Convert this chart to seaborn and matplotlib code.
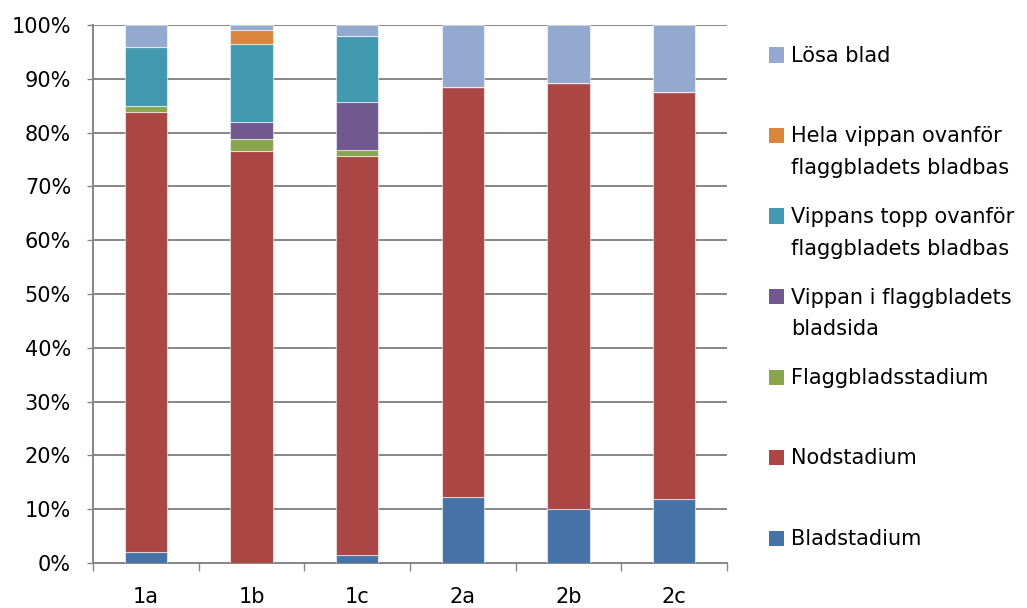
import matplotlib
matplotlib.use("Agg")
import matplotlib.pyplot as plt
import matplotlib.patches as mpatches
from matplotlib.ticker import FixedLocator, PercentFormatter
import numpy as np
import pandas as pd
import seaborn as sns

# Plots (x-axis categories)
plots = ["1a", "1b", "1c", "2a", "2b", "2c"]

# Share of plants (%) per development stage, stacked bottom to top
bladstadium = [2.1, 0.0, 1.5, 12.2, 10.0, 11.9]
nodstadium = [81.8, 76.5, 74.2, 76.3, 79.2, 75.6]
flaggbladsstadium = [1.1, 2.3, 1.1, 0.0, 0.0, 0.0]
vippan_bladsida = [0.0, 3.2, 8.8, 0.0, 0.0, 0.0]
vippans_topp = [11.0, 14.5, 12.4, 0.0, 0.0, 0.0]
hela_vippan = [0.0, 2.6, 0.0, 0.0, 0.0, 0.0]
losa_blad = [4.0, 0.9, 2.0, 11.5, 10.8, 12.5]

series_names = [
    "Bladstadium",
    "Nodstadium",
    "Flaggbladsstadium",
    "Vippan i flaggbladets\nbladsida",
    "Vippans topp ovanför\nflaggbladets bladbas",
    "Hela vippan ovanför\nflaggbladets bladbas",
    "Lösa blad",
]
series_values = [bladstadium, nodstadium, flaggbladsstadium, vippan_bladsida,
                 vippans_topp, hela_vippan, losa_blad]
colors = ["#4572A7", "#AA4643", "#89A54E", "#71588F", "#4198AF", "#DB843D", "#93A9CF"]

sns.set_theme(style="white")
plt.rcParams["font.family"] = ["DejaVu Sans"]

W, H = 1027, 608
fig = plt.figure(figsize=(W / 100, H / 100), dpi=100)
ax = fig.add_axes([93 / W, 1 - 563 / H, (727 - 93) / W, (563 - 25) / H])

bottom = np.zeros(len(plots))
for name, vals, col in zip(series_names, series_values, colors):
    df = pd.DataFrame({"plot": plots, "value": vals})
    sns.barplot(data=df, x="plot", y="value", color=col, bottom=bottom,
                width=0.4, ax=ax, saturation=1, edgecolor=(1, 1, 1, 0.55),
                linewidth=0.8, zorder=3)
    bottom = bottom + np.array(vals)

ax.set_xlim(-0.5, len(plots) - 0.5)
ax.set_ylim(0, 100)
ax.set_yticks(np.arange(0, 101, 10))
ax.yaxis.set_major_formatter(PercentFormatter(decimals=0))
ax.yaxis.grid(True, color="#868686", linewidth=1.4, zorder=0)
ax.set_axisbelow(True)
ax.set_xlabel("")
ax.set_ylabel("")

for side in ["top", "right"]:
    ax.spines[side].set_visible(False)
for side in ["left", "bottom"]:
    ax.spines[side].set_color("#868686")
    ax.spines[side].set_linewidth(1.4)

ax.tick_params(axis="y", which="major", left=True, length=4.3, width=1.0,
               color="#868686", labelsize=15, labelcolor="black", pad=11.5)
ax.tick_params(axis="x", which="major", bottom=False, length=0, labelsize=15,
               labelcolor="black", pad=17)
ax.xaxis.set_minor_locator(FixedLocator(np.arange(-0.5, len(plots), 1.0)))
ax.tick_params(axis="x", which="minor", bottom=True, length=5.8, width=1.0,
               color="#868686")

# Legend: one slot per series, top entry first; wrapped labels hang below
slot_top, slot_pitch = 55, 80.5
for i, (name, col) in enumerate(zip(series_names[::-1], colors[::-1])):
    yc = slot_top + i * slot_pitch
    fig.patches.append(mpatches.Rectangle(
        (769 / W, 1 - (yc + 7.5) / H), 15 / W, 15 / H,
        transform=fig.transFigure, facecolor=col, edgecolor="none"))
    fig.text(791 / W, 1 - (yc - 9) / H, name, ha="left", va="top",
             fontsize=15, color="black", linespacing=1.72)

fig.savefig("out.png", dpi=100)
